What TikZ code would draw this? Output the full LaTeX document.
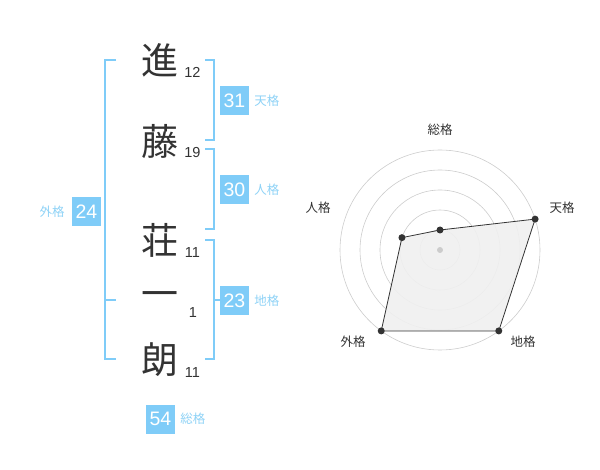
\documentclass[tikz,border=0pt]{standalone}
\usepackage{fontspec}
\setmainfont{Liberation Sans}
\newfontfamily\cjk{Noto Sans CJK JP}
\definecolor{sky}{HTML}{7FCCF8}
\definecolor{skytext}{HTML}{8ED2F6}
\definecolor{ink}{HTML}{333333}
\definecolor{ring}{HTML}{CCCCCC}
\begin{document}
\begin{tikzpicture}[x=1pt,y=-1pt,
  ch/.style={font=\cjk\fontsize{37}{40}\selectfont, text=ink, inner sep=0pt},
  num/.style={font=\fontsize{14.5}{16}\selectfont, text=ink, inner sep=0pt},
  box/.style={fill=sky, text=white, minimum size=29pt, inner sep=0pt, font=\fontsize{19.5}{20}\selectfont},
  lbl/.style={font=\cjk\fontsize{12.5}{14}\selectfont, text=skytext, inner sep=0pt},
  brk/.style={draw=sky, line width=1.6pt},
  rlbl/.style={font=\cjk\fontsize{12.5}{14}\selectfont, text=ink, inner sep=0pt},
  dot/.style={circle, fill=ink, inner sep=0pt, minimum size=7pt},
]
\useasboundingbox (0,0) rectangle (600,470);
% characters
\node[ch] (c1) at (160,60) {進};
\node[ch] (c2) at (160,141) {藤};
\node[ch] (c3) at (160,240) {荘};
\node[ch] (c4) at (160,300) {一};
\node[ch] (c5) at (160,360) {朗};
% stroke numbers
\node[num] (n1) at (192.5,72.5) {12};
\node[num] (n2) at (192.5,153) {19};
\node[num] (n3) at (192.5,253) {11};
\node[num] (n4) at (193,312.5) {1};
\node[num] (n5) at (192.5,372.5) {11};
% brackets
\draw[brk] (116,60) -- (105,60) -- (105,359) -- (116,359);
\draw[brk] (105,300) -- (116,300);
\draw[brk] (205,60) -- (214,60) -- (214,140) -- (205,140);
\draw[brk] (205,149) -- (214,149) -- (214,229) -- (205,229);
\draw[brk] (205,240) -- (214,240) -- (214,359) -- (205,359);
\draw[brk] (214,300) -- (220,300);
% boxes
\node[box] (b31) at (234.5,100.5) {31};
\node[lbl, anchor=west] (l31) at ([xshift=5pt]b31.east) {天格};
\node[box] (b30) at (234.5,190) {30};
\node[lbl, anchor=west] (l30) at ([xshift=5pt]b30.east) {人格};
\node[box] (b23) at (234.5,300.5) {23};
\node[lbl, anchor=west] (l23) at ([xshift=5pt]b23.east) {地格};
\node[box] (b24) at (86.5,212) {24};
\node[lbl, anchor=east] (l24) at ([xshift=-7pt]b24.west) {外格};
\node[box] (b54) at (160.5,419) {54};
\node[lbl, anchor=west] (l54) at ([xshift=5pt]b54.east) {総格};
% radar
\begin{scope}[shift={(440,250)}]
  \foreach \r in {20,40,60,80,100} \draw[ring, line width=0.6pt] (0,0) circle[radius=\r];
  \coordinate (pS) at (90:-20);
  \coordinate (pT) at (-18:100);
  \coordinate (pC) at (54:100);
  \coordinate (pG) at (126:100);
  \coordinate (pJ) at (198:40);
  \filldraw[fill=black!6, fill opacity=0.9, draw=ink, line width=0.8pt] (pS) -- (pT) -- (pC) -- (pG) -- (pJ) -- cycle;
  \node[circle, fill=ring, inner sep=0pt, minimum size=6pt] (ctr) at (0,0) {};
  \node[dot] (dS) at (pS) {};
  \node[dot] (dT) at (pT) {};
  \node[dot] (dC) at (pC) {};
  \node[dot] (dG) at (pG) {};
  \node[dot] (dJ) at (pJ) {};
  \node[rlbl] (rS) at (0,-120) {総格};
  \node[rlbl] (rT) at (122,-42) {天格};
  \node[rlbl] (rC) at (83,92) {地格};
  \node[rlbl] (rG) at (-87,92) {外格};
  \node[rlbl] (rJ) at (-122,-42) {人格};
\end{scope}
\end{tikzpicture}
\end{document}
